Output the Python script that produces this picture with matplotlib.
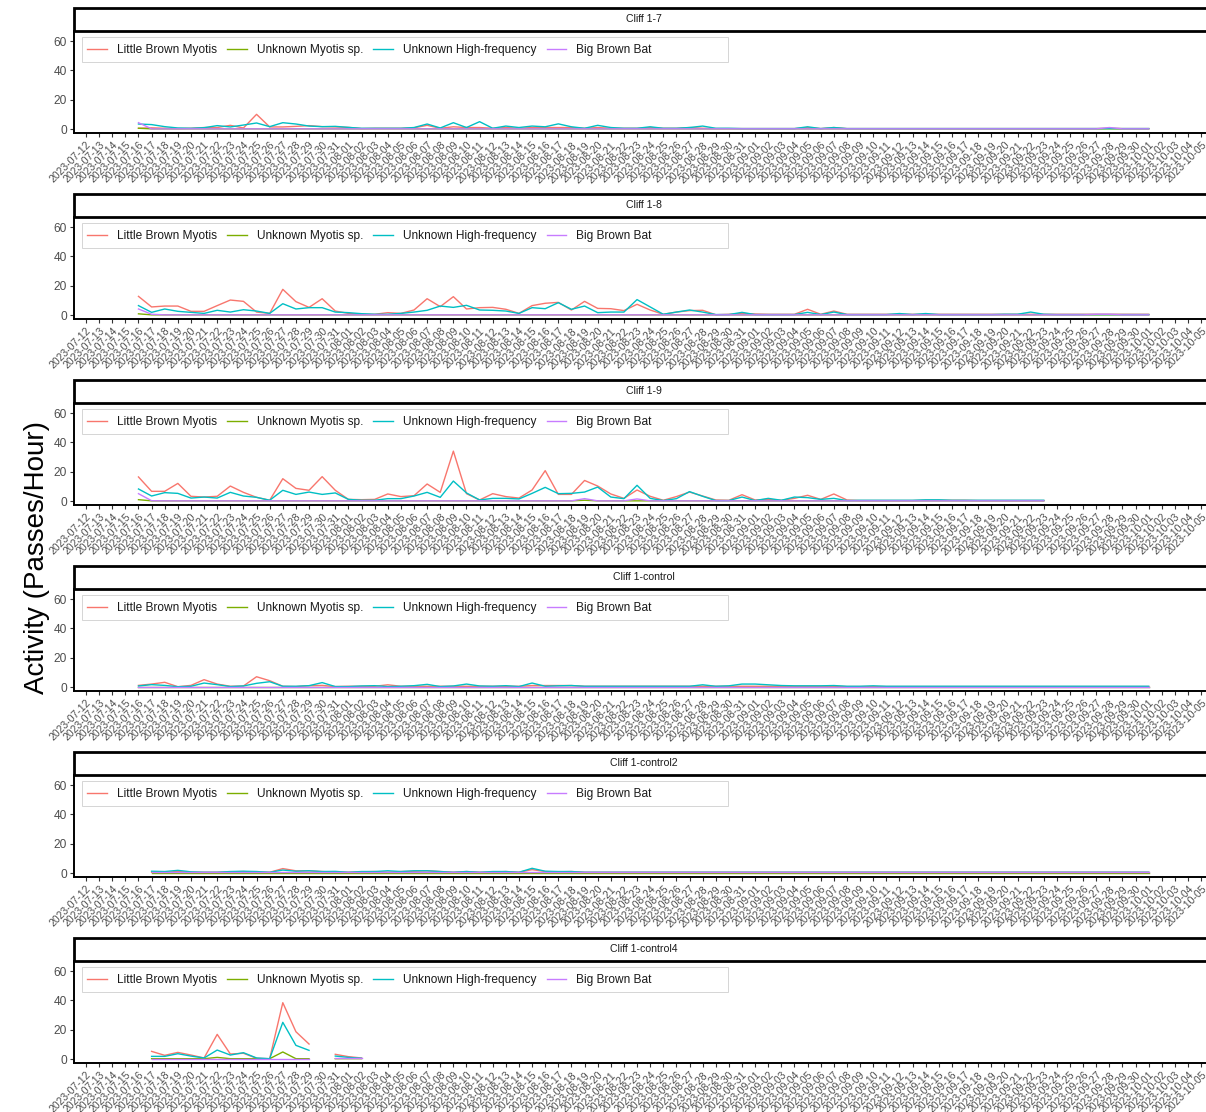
import matplotlib
matplotlib.use("Agg")
import matplotlib.pyplot as plt
import matplotlib.dates as mdates
import numpy as np
import pandas as pd
from matplotlib.patches import Rectangle

plt.rcParams['font.family'] = ['Liberation Sans', 'DejaVu Sans']

species = ["Little Brown Myotis", "Unknown Myotis sp.", "Unknown High-frequency", "Big Brown Bat"]
colors = ["#F8766D", "#7CAE00", "#00BFC4", "#C77CFF"]
sites = ["Cliff 1-7", "Cliff 1-8", "Cliff 1-9", "Cliff 1-control", "Cliff 1-control2", "Cliff 1-control4"]
site_start = ["2023-07-16", "2023-07-16", "2023-07-16", "2023-07-16", "2023-07-17", "2023-07-17"]
axis_first_date = "2023-07-12"
axis_last_date = "2023-10-05"
y_ticks = [0, 20, 40, 60]
y_label = "Activity (Passes/Hour)"

# Cliff 1-7 (07-16 .. 10-01)
c17_lbm = [0.5,0.8,0.5,0.3,0.5,1,1,2.5,0.7,10,1.4,1.4,1.8,2.3,1.6,1.4,1.1,0.3,
           0.5,0.5,0.5,0.8,2.5,0.5,1.5,1,1,0.5,1,0.5,1,1,
           1,1,0.5,1,0.5,0.5,0.5,1,0.5,0.5,1,0.5,0.3,0.3,0.3,0.3,
           0.3,0.3,0.3,1,0.3,1,0.3,0.3,0.3,0.3,0.3,0.3,0.3,0.3,0.3,0.3,
           0.3,0.3,0.3,0.3,0.3,0.3,0.3,0.3,0.3,0.3,0.5,0.3,0.3,0.3]
c17_ums = [0.5] + [0.1]*77
c17_uhf = [3.4,3,1.6,0.7,0.5,0.9,2.3,1.4,2.7,4.1,1.6,4.3,3.4,2,1.6,1.8,1.1,0.5,
           0.5,0.5,0.5,1,3.4,0.7,4.3,1,5,0.5,2,1,2,1.5,
           3.5,1.5,0.5,2.5,1,0.5,0.5,1.5,0.5,0.5,1,2,0.5,0.5,0.3,0.3,
           0.3,0.3,0.3,1.5,0.3,1,0.3,0.3,0.3,0.3,0.3,0.3,0.3,0.3,0.3,0.3,
           0.3,0.3,0.3,0.3,0.3,0.3,0.3,0.3,0.3,0.3,0.3,0.3,0.3,0.3]
c17_bbb = [4.3] + [0.1]*72 + [0.1, 1.0, 0.1, 0.1, 0.1]

# Cliff 1-8 (07-16 .. 10-01)
c18_lbm = [12.7,5.5,6.1,6.1,2.5,2.5,6.4,10.2,9.3,2,1.1,17.5,9.1,5.2,11.1,2.7,1.1,0.5,
           0.5,1.6,1.1,3.4,11.1,5.7,12.5,4.1,5,5.2,3.9,1.1,6.4,8,
           8.6,3.4,9.3,4.5,4.3,3,7.3,3.4,0.5,2,3,3.2,0.2,0.5,1.1,0.7,
           0.5,0.5,0.5,3.9,0.5,2.7,0.5,0.5,0.5,0.5,0.5,0.5,0.5,0.5,0.5,0.5,
           0.5,0.5,0.5,0.5,0.5,0.5,0.5,0.5,0.5,0.5,0.5,0.5,0.5,0.5]
c18_ums = [0.8] + [0.1]*77
c18_uhf = [6.4,1.8,4.1,2.5,1.8,1.1,3.2,2,3.6,2.7,1.1,7.7,4.1,5,5,2,1.6,0.9,
           0.5,0.5,1.1,2,3.2,6.1,5.2,6.6,3.4,3.2,2.7,1.1,5,4.3,
           8.4,3.9,6.1,1.6,2,2,10.5,5.5,0.5,2,3.4,2,0.3,0.3,1.8,0.3,
           0.3,0.3,0.3,1.8,0.3,2,0.3,0.3,0.3,0.3,1,0.3,1,0.3,0.3,0.3,
           0.3,0.3,0.5,0.5,2,0.5,0.3,0.3,0.3,0.3,0.3,0.3,0.3,0.3]
c18_bbb = [4.1,0.5] + [0.1]*71 + [0.5, 0.5, 0.1, 0.1, 0.1]

# Cliff 1-9 (07-16 .. 09-23)
c19_lbm = [16.4,6.6,6.6,12,3.2,2.7,3.2,10.2,5.9,2.5,0.5,15.2,8.6,7.3,16.6,7.3,1.1,0.9,
           1.1,4.8,3,3.6,11.6,5.9,34,5,0.7,5,3,2,7.5,20.7,
           4.5,4.5,14,10.2,4.8,1.8,7.5,3.2,0.5,3,6.1,3.4,0.7,0.5,4.3,0.7,
           1.1,0.5,1.8,3.9,1.1,4.8,0.7,0.3,0.3,0.3,0.3,0.3,0.5,0.5,0.5,0.5,
           0.3,0.3,0.3,0.3,0.3,0.3]
c19_ums = [0.9] + [0.1]*33 + [0.5] + [0.1]*35
c19_uhf = [8.2,3.4,5.7,5.2,2,2.7,2,5.9,3.4,2.5,0.5,7.3,4.5,6.1,4.5,5.5,1.1,0.5,
           0.5,1.6,1.6,3.4,5.9,2.5,13.6,5.5,0.7,1.8,1.8,1.4,5.2,9.3,
           5,5.2,6.1,9.5,2.7,1.6,10.7,1.8,0.3,1.6,6.4,3.2,0.3,0.3,2.7,0.3,
           1.8,0.5,2.7,2.3,1.1,1.8,0.3,0.5,0.5,0.5,0.5,0.5,0.8,0.8,0.5,0.5,
           0.5,0.5,0.5,0.5,0.5,0.5]
c19_bbb = [5,0.2] + [0.1]*32 + [1.6] + [0.1]*3 + [1.4] + [0.1]*31

# Cliff 1-control (07-16 .. 10-01)
c1c_lbm = [1.1,2,3.2,0.2,1.1,5,2,0.5,0.7,7,4.3,0.5,0.3,0.9,1.1,0.3,0.5,0.5,
           0.5,1.5,0.5,0.5,0.5,0.5,0.5,0.5,0.5,0.5,0.5,0.5,1,1,
           1,1,0.5,0.5,0.5,0.5,0.5,0.5,0.5,0.5,0.5,0.5,0.5,0.5,0.5,0.5,
           0.5,0.5,0.5,0.5,0.5,0.5,0.3,0.3,0.3,0.3,0.3,0.3,0.3,0.3,0.3,0.3,
           0.3,0.3,0.3,0.3,0.3,0.3,0.3,0.3,0.3,0.3,0.3,0.3,0.3,0.3]
c1c_ums = [0.2]*78
c1c_uhf = [0.7,1.6,1.1,0.2,0.5,2.7,1.6,0.3,0.7,2.5,3.6,0.5,0.5,0.9,3,0.3,0.3,0.7,
           0.9,0.3,0.5,0.9,1.8,0.3,0.7,2,0.7,0.5,0.9,0.3,2.7,0.5,
           0.8,1,0.5,0.5,0.5,0.5,0.5,0.5,0.5,0.5,0.5,1.5,0.5,0.8,2,2,
           1.5,1,0.8,0.8,0.8,1,0.5,0.5,0.8,0.5,0.5,0.5,0.5,0.5,0.5,0.5,
           0.5,0.5,0.5,0.5,0.5,0.5,0.5,0.5,0.5,0.5,0.5,0.5,0.5,0.5]
c1c_bbb = [0.3]*78

# Cliff 1-control2 (07-17 .. 10-01)
c1c2_lbm = [0.5,0.5,1,0.5,0.5,0.5,0.8,1,0.5,0.5,3,1.5,1.5,1,0.5,0.5,
            0.8,1,0.5,1,1.2,1.5,1,0.5,1,0.5,0.5,1,0.5,2.3,1,
            0.8,1,0.5,0.5,0.5,0.5,0.5,0.5,0.5,0.5,0.5,0.5,0.5,0.5,0.5,0.5,
            0.5,0.5,0.5,0.5,0.5,0.5,0.5,0.5,0.5,0.5,0.5,0.5,0.5,0.5,0.5,0.5,
            0.5,0.5,0.5,0.5,0.5,0.5,0.5,0.5,0.5,0.5,0.5,0.5,0.5,0.5]
c1c2_ums = [0.2]*77
c1c2_uhf = [1.2,1,1.8,0.8,0.5,0.5,1,1.2,1,0.5,2,1.2,1.5,1,1.1,0.5,
            1,1,1.5,1,1.5,1.5,1,0.5,1,0.5,1,1,0.5,3.2,1.2,
            1,1,0.5,0.5,0.5,0.5,0.5,0.5,0.5,0.5,0.5,0.5,0.5,0.5,0.5,0.5,
            0.5,0.5,0.5,0.5,0.5,0.5,0.5,0.5,0.5,0.5,0.5,0.5,0.5,0.5,0.5,0.5,
            0.5,0.5,0.5,0.5,0.5,0.5,0.5,0.5,0.5,0.5,0.5,0.5,0.5,0.5]
c1c2_bbb = [0.5]*77

# Cliff 1-control4 (07-17 .. 08-02, no data 07-30)
c1c4_lbm = [5.2,2.5,4.5,2.7,0.7,16.8,3.4,3.9,0.5,0.2,38.4,18.6,10.2,np.nan,3.2,1.6,0.7]
c1c4_ums = [0.2,0.2,0.2,0.2,0.2,1.1,0.2,0.2,0.2,0.2,4.8,0.2,0.2,np.nan,0.2,0.2,0.2]
c1c4_uhf = [1.8,1.8,3.6,2,0.7,6.1,2.7,4.3,0.7,0.2,25,9.3,5.9,np.nan,2,1.1,0.5]
c1c4_bbb = [0.3]*13 + [np.nan] + [0.5,0.5,0.5]

site_data = [
    [c17_lbm, c17_ums, c17_uhf, c17_bbb],
    [c18_lbm, c18_ums, c18_uhf, c18_bbb],
    [c19_lbm, c19_ums, c19_uhf, c19_bbb],
    [c1c_lbm, c1c_ums, c1c_uhf, c1c_bbb],
    [c1c2_lbm, c1c2_ums, c1c2_uhf, c1c2_bbb],
    [c1c4_lbm, c1c4_ums, c1c4_uhf, c1c4_bbb],
]

W, H = 1206, 1112
fig = plt.figure(figsize=(W/100, H/100), dpi=100)

first = pd.Timestamp(axis_first_date)
last = pd.Timestamp(axis_last_date)
tick_dates = pd.date_range(first, last, freq="D")
px_per_day = 13.12
ax_left, ax_right = 74, 1214
x0 = first - pd.Timedelta(days=(86 - ax_left) / px_per_day)
x1 = first + pd.Timedelta(days=(ax_right - 86) / px_per_day)

y_per_px = 20 / 29.33
ylo = -(133 - 129) * y_per_px
yhi = (129 - 31) * y_per_px
ax_w = ax_right - ax_left
ax_h = 102

for k, site in enumerate(sites):
    top = 31 + 186 * k
    bot = 133 + 186 * k
    ax = fig.add_axes([ax_left / W, 1 - bot / H, ax_w / W, ax_h / H])
    start = pd.Timestamp(site_start[k])
    for j, sp in enumerate(species):
        vals = site_data[k][j]
        dates = pd.date_range(start, periods=len(vals), freq="D")
        ax.plot(dates, vals, color=colors[j], lw=1.0, label=sp)
    ax.set_xlim(x0, x1)
    ax.set_ylim(ylo, yhi)
    ax.set_yticks(y_ticks)
    ax.set_xticks(tick_dates)
    ax.xaxis.set_major_formatter(mdates.DateFormatter("%Y-%m-%d"))
    for lab in ax.get_xticklabels():
        lab.set_rotation(45)
        lab.set_ha("right")
        lab.set_va("top")
        lab.set_rotation_mode("anchor")
    ax.tick_params(axis="x", labelsize=7.5, colors="#333333", labelcolor="#4D4D4D", length=3, width=0.8, pad=2)
    ax.tick_params(axis="y", labelsize=8.6, colors="#333333", labelcolor="#4D4D4D", length=3, width=0.8, pad=2)
    for s in ["top", "right"]:
        ax.spines[s].set_visible(False)
    for s in ["left", "bottom"]:
        ax.spines[s].set_linewidth(1.4)
        ax.spines[s].set_color("black")
    ax.patch.set_alpha(0)
    # legend background box (ggplot-style, wider than entries)
    ax.add_patch(Rectangle((8 / ax_w, 1 - 31 / ax_h), (728 - 82) / ax_w, 25 / ax_h,
                           transform=ax.transAxes, facecolor="white", edgecolor="#d5d5d5",
                           linewidth=0.7, zorder=4, clip_on=False))
    leg = ax.legend(loc="upper left", bbox_to_anchor=(8 / ax_w, 1 - 8 / ax_h), ncol=4,
                    frameon=False, fontsize=8.55, handlelength=1.65, handletextpad=0.85,
                    columnspacing=0.85, borderaxespad=0, borderpad=0.45)
    leg.set_zorder(5)
    for t in leg.get_texts():
        t.set_color("#1a1a1a")
    # strip
    stop = 8 + 186 * k
    fig.add_artist(Rectangle((ax_left / W, 1 - top / H), (ax_right + 20 - ax_left) / W, (top - stop) / H,
                             transform=fig.transFigure, facecolor="white", edgecolor="black",
                             linewidth=2.0, clip_on=False))
    fig.text((ax_left + ax_right) / 2 / W, 1 - (stop + top) / 2 / H, site, ha="center", va="center",
             fontsize=7.6, color="#1a1a1a")

fig.text(37 / W, 1 - 558 / H, y_label, rotation=90, ha="center", va="center", fontsize=20)

fig.savefig("out.png", dpi=100)
